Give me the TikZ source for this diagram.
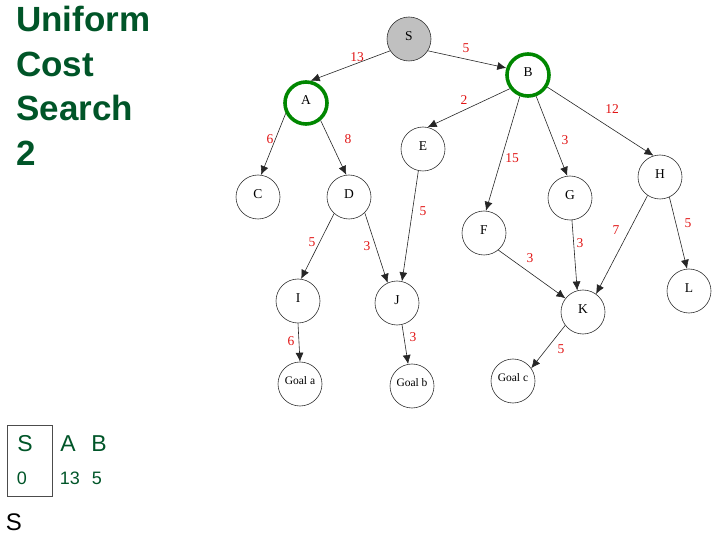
\documentclass[tikz,border=0pt]{standalone}
\usepackage{fontspec}
\setmainfont{Liberation Serif}
\newfontfamily\arial{Liberation Sans}
\usetikzlibrary{arrows.meta}
\definecolor{titlegreen}{RGB}{0,85,40}
\definecolor{ringgreen}{RGB}{0,135,0}
\definecolor{costred}{RGB}{225,20,20}
\definecolor{startgray}{RGB}{192,192,192}
\tikzset{
  state/.style={circle, draw=black!80, line width=0.6pt, minimum size=44pt, inner sep=0pt,
    font=\fontsize{13.5}{13.5}\selectfont},
  goal/.style={state, font=\fontsize{11.5}{12}\selectfont},
  frontier/.style={draw=ringgreen, line width=3.6pt, minimum size=42pt},
  edge/.style={draw=black!85, line width=0.6pt, -{Latex[length=9pt,width=8pt]}},
  cost/.style={text=costred, font=\fontsize{13.5}{13.5}\selectfont, inner sep=0pt},
  title/.style={text=titlegreen, font=\arial\bfseries\fontsize{35}{44.5}\selectfont, align=left, anchor=north west, inner sep=0pt},
  tabtxt/.style={text=titlegreen, font=\arial\fontsize{23}{23}\selectfont, inner sep=0pt},
  tabnum/.style={text=titlegreen, font=\arial\fontsize{18}{18}\selectfont, inner sep=0pt}
}
\newcommand{\up}[1]{\raisebox{6pt}{#1}}
\begin{document}
\begin{tikzpicture}[x=1pt, y=-1pt]
\useasboundingbox (0,0) rectangle (721,540);

% heading
\node[title] (head) at (16,6) {Uniform\\Cost\\Search\\2};

% search tree
\node[state, fill=startgray] (S) at (409,39) {\up{S}};
\node[state, frontier] (A) at (306,103) {\up{A}};
\node[state, frontier] (B) at (528,75) {\up{B}};
\node[state] (C) at (258,197) {\up{C}};
\node[state] (D) at (349,197) {\up{D}};
\node[state] (E) at (423,149) {\up{E}};
\node[state] (F) at (484,233) {\up{F}};
\node[state] (G) at (570,198) {\up{G}};
\node[state] (H) at (660,177) {\up{H}};
\node[state] (I) at (298,301) {\up{I}};
\node[state] (J) at (397,303) {\up{J}};
\node[state] (K) at (583,312) {\up{K}};
\node[state] (L) at (689,291) {\up{L}};
\node[goal] (Ga) at (300,384) {\up{Goal a}};
\node[goal] (Gb) at (412,386) {\up{Goal b}};
\node[goal] (Gc) at (513,381) {\up{Goal c}};

% edges with step costs
\draw[edge] (S.212) -- (A.78);
\draw[edge] (S.328) -- (B.162);
\draw[edge] (B.217) -- (E.78);
\draw[edge] (A.207) -- (C.82);
\draw[edge] (A.310) -- (D.97);
\draw[edge] (E.258) -- (J.77);
\draw[edge] (D.228) -- (I.82);
\draw[edge] (D.315) -- (J.115);
\draw[edge] (I.270) -- (Ga.90);
\draw[edge] (J.283) -- (Gb.100);
\draw[edge] (B.249) -- (F.85);
\draw[edge] (B.291) -- (G.97);
\draw[edge] (B.328) -- (H.107);
\draw[edge] (G.275) -- (K.105);
\draw[edge] (H.236) -- (K.54);
\draw[edge] (H.295) -- (L.95);
\draw[edge] (F.310) -- (K.142);
\draw[edge] (K.217) -- (Gc.35);

\node[cost] (cSA) at (357,57) {13};
\node[cost] (cSB) at (466,48) {5};
\node[cost] (cBE) at (464,100) {2};
\node[cost] (cAC) at (270,139) {6};
\node[cost] (cAD) at (348,139) {8};
\node[cost] (cEJ) at (423,211) {5};
\node[cost] (cDI) at (312,242) {5};
\node[cost] (cDJ) at (367,246) {3};
\node[cost] (cIa) at (291,341) {6};
\node[cost] (cJb) at (413,337) {3};
\node[cost] (cBF) at (512,158) {15};
\node[cost] (cBG) at (565,140) {3};
\node[cost] (cBH) at (612,109) {12};
\node[cost] (cGK) at (580,243) {3};
\node[cost] (cHK) at (616,230) {7};
\node[cost] (cHL) at (688,223) {5};
\node[cost] (cFK) at (530,258) {3};
\node[cost] (cKc) at (561,349) {5};

% frontier table
\draw[black!70, line width=0.8pt] (7,425) rectangle (52,496);
\node[tabtxt] (tS) at (25,444) {S};
\node[tabnum] (t0) at (22,478) {0};
\node[tabtxt] (tA) at (68,444) {A};
\node[tabtxt] (tB) at (99,444) {B};
\node[tabnum] (t13) at (70,478) {13};
\node[tabnum] (t5) at (97,478) {5};
\node[font=\arial\fontsize{24}{24}\selectfont, inner sep=0pt] (path) at (14,522) {S};
\end{tikzpicture}
\end{document}
